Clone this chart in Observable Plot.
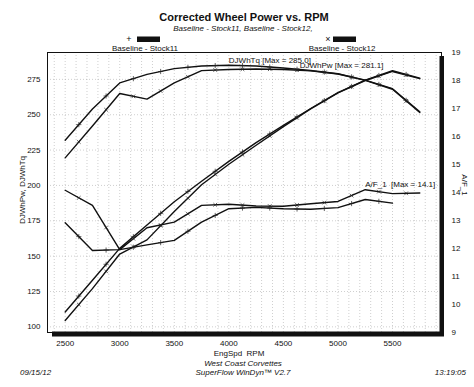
<!DOCTYPE html>
<html><head><meta charset="utf-8">
<script src="https://cdn.jsdelivr.net/npm/d3@7"></script>
<script src="https://cdn.jsdelivr.net/npm/@observablehq/plot@0.6"></script>
<style>
body{margin:0;background:#fff;}
#chart{width:474px;height:387px;}
svg text{font-family:"Liberation Sans",Arial,sans-serif;}
</style></head><body><div id="chart"></div>
<script>
// ---- data ----
const rpm = [2500, 2750, 3000, 3250, 3500, 3750, 4000, 4250, 4500, 4750, 5000, 5250, 5500, 5750];
const torque11 = [232, 254, 272.5, 278.5, 282.6, 284.5, 285.0, 284.5, 283, 281.3, 279, 274.5, 268.4, 252];
const torque12 = [219.5, 242, 265, 261, 272.5, 281.2, 282, 282.3, 282, 281, 278.8, 274.3, 268, 251.6];
const power11 = [110.5, 133, 155.5, 172, 188.5, 203, 217, 230.3, 242.5, 254.4, 265.6, 274.4, 281.1, 275.9];
const power12 = [104.5, 127, 151.5, 161.5, 181.5, 200.5, 215, 228.4, 241.6, 254.1, 265.4, 274.2, 280.6, 275.5];
const afr12 = [14.08, 13.54, 11.96, 12.74, 12.94, 13.54, 13.58, 13.52, 13.51, 13.6, 13.68, 14.1, 13.96, 13.98];
const afr11 = [12.92, 11.93, 11.96, 12.13, 12.29, 12.94, 13.42, 13.47, 13.42, 13.4, 13.46, 13.75, 13.62];
const runs = ["Stock11", "Stock12"];
const xTicks = [2500, 3000, 3500, 4000, 4500, 5000, 5500];
const leftTicks = [100, 125, 150, 175, 200, 225, 250, 275];
const afrTicks = [9, 10, 11, 12, 13, 14, 15, 16, 17, 18, 19];
const xDomain = [2338, 5949];
const leftDomain = [96, 294];
const afrDomain = [9, 19];

// ---- mapping of A/F onto the left scale (secondary axis) ----
const k = (leftDomain[1] - leftDomain[0]) / (afrDomain[1] - afrDomain[0]);
const afrToLeft = a => leftDomain[0] + (a - afrDomain[0]) * k;
const leftToAfr = v => afrDomain[0] + (v - leftDomain[0]) / k;

const rows = [];
function add(run, kind, vals) {
  vals.forEach((v, i) => rows.push({run, kind, key: run + kind, rpm: rpm[i], raw: v, v: kind === "afr" ? afrToLeft(v) : v}));
}
add("Stock11", "tq", torque11); add("Stock12", "tq", torque12);
add("Stock11", "pw", power11); add("Stock12", "pw", power12);
add("Stock11", "afr", afr11); add("Stock12", "afr", afr12);

// marker glyphs sit midway along each segment, as in the dyno printout
const mids = d3.groups(rows, d => d.key).flatMap(([key, pts]) =>
  d3.pairs(pts).map(([a, b]) => ({run: a.run, rpm: (a.rpm + b.rpm) / 2, v: (a.v + b.v) / 2})));

const iTq = d3.maxIndex(torque11), iPw = d3.maxIndex(power11), iAf = d3.maxIndex(afr12);
const labels = [
  {rpm: rpm[iTq], v: torque11[iTq], text: `DJWhTq [Max = ${torque11[iTq].toFixed(1)}]`, anchor: "start", dx: 0, dy: -5},
  {rpm: rpm[iPw], v: power11[iPw], text: `DJWhPw [Max = ${power11[iPw].toFixed(1)}]`, anchor: "end", dx: -9, dy: -5},
  {rpm: rpm[iAf], v: afrToLeft(afr12[iAf]), text: `A/F_1  [Max = ${afr12[iAf].toFixed(1)}]`, anchor: "start", dx: 0, dy: -5}
];

const W = 474, H = 387, mL = 47, mR = 33, mT = 52, mB = 55;
const grid = {stroke: "#999", strokeOpacity: 0.8, strokeWidth: 0.6, strokeDasharray: "1,2"};

const plot = Plot.plot({
  width: W, height: H,
  marginLeft: mL, marginRight: mR, marginTop: mT, marginBottom: mB,
  x: {domain: xDomain},
  y: {domain: leftDomain},
  style: {fontFamily: '"Liberation Sans", Arial, sans-serif', fontSize: "8px", background: "#fff", color: "#111"},
  marks: [
    Plot.gridX(d3.range(2400, 6000, 100), grid),
    Plot.gridY(leftTicks, grid),
    Plot.frame({stroke: "#111", strokeWidth: 1}),
    Plot.axisX(xTicks, {tickSize: 0, tickPadding: 8, label: null, tickFormat: d => String(d)}),
    Plot.axisY(leftTicks, {anchor: "left", tickSize: 0, tickPadding: 7, label: null, tickFormat: d => String(d)}),
    Plot.axisY(afrTicks.map(afrToLeft), {anchor: "right", tickSize: 0, tickPadding: 10, label: null,
      tickFormat: v => String(Math.round(leftToAfr(v)))}),
    Plot.line(rows, {x: "rpm", y: "v", z: "key", stroke: "#111", strokeWidth: 1.4}),
    Plot.dot(mids.filter(d => d.run === runs[0]), {x: "rpm", y: "v", symbol: "plus", r: 1.8, stroke: "#222", strokeWidth: 0.7}),
    Plot.dot(mids.filter(d => d.run === runs[1]), {x: "rpm", y: "v", symbol: "times", r: 1.8, stroke: "#222", strokeWidth: 0.7}),
    ...labels.map(l => Plot.text([l], {x: "rpm", y: "v", text: "text", textAnchor: l.anchor, dx: l.dx, dy: l.dy,
      fontSize: 8, fill: "#111"}))
  ]
});

const svg = d3.select(plot);

// drop-shadow style heavy border (bottom & right)
svg.append("rect").attr("x", mL + 5).attr("y", H - mB - 0.5).attr("width", W - mR - mL - 2).attr("height", 5).attr("fill", "#111");
svg.append("rect").attr("x", W - mR - 1.5).attr("y", mT + 4).attr("width", 4.5).attr("height", H - mB - mT).attr("fill", "#111");

function txt(x, y, s, o = {}) {
  const t = svg.append("text").attr("x", x).attr("y", y).text(s)
    .attr("font-size", o.size || 8).attr("fill", "#111")
    .attr("text-anchor", o.anchor || "middle");
  if (o.bold) t.attr("font-weight", "bold");
  if (o.italic) t.attr("font-style", "italic");
  if (o.transform) t.attr("transform", o.transform);
  return t;
}
txt(244, 21, "Corrected Wheel Power vs. RPM", {size: 11, bold: true});
txt(243, 31, "Baseline - Stock11, Baseline - Stock12,", {italic: true});
// legend
txt(129, 42, "+", {size: 9});
svg.append("rect").attr("x", 137).attr("y", 36.5).attr("width", 23).attr("height", 5.5).attr("fill", "#111");
txt(145, 50.5, "Baseline - " + runs[0]);
txt(328, 42, "×", {size: 9});
svg.append("rect").attr("x", 333).attr("y", 36.5).attr("width", 23).attr("height", 5.5).attr("fill", "#111");
txt(342, 50.5, "Baseline - " + runs[1]);
// axis titles
txt(0, 0, "DJWhPw, DJWhTq", {transform: "translate(25,190) rotate(-90)"});
txt(0, 0, "A/F_1", {transform: "translate(462,185) rotate(90)"});
txt(239, 356, "EngSpd  RPM").style("white-space", "pre");
// footer
txt(243, 366, "West Coast Corvettes", {italic: true});
txt(243, 374.5, "SuperFlow WinDyn™ V2.7", {italic: true});
txt(20, 374.5, "09/15/12", {italic: true, anchor: "start"});
txt(466, 374.5, "13:19:05", {italic: true, anchor: "end"});

document.getElementById("chart").appendChild(plot);
</script></body></html>
